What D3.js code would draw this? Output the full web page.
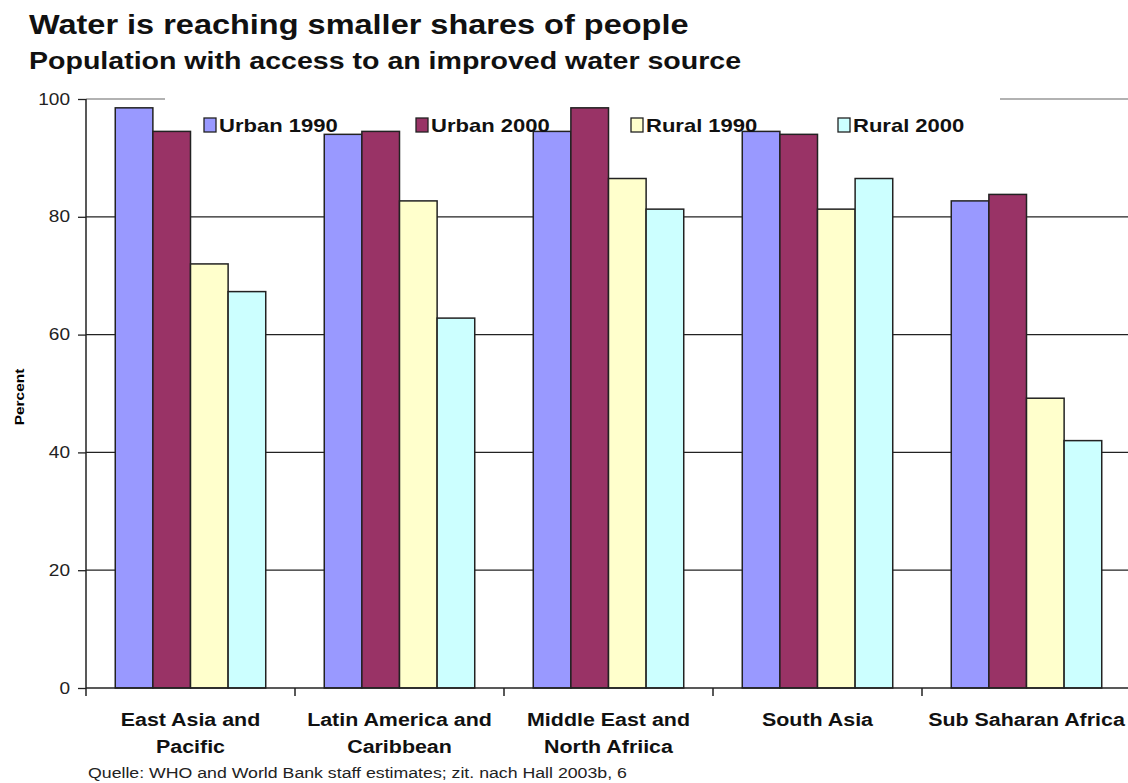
<!DOCTYPE html>
<html>
<head>
<meta charset="utf-8">
<script src="https://cdn.jsdelivr.net/npm/d3@7"></script>
<style>
  body { margin: 0; background: #fff; }
  svg { display: block; font-family: Arial, "Liberation Sans", sans-serif; }
</style>
</head>
<body>
<svg id="chart" width="1128" height="783"></svg>
<script>
// --- data ---
const regions = [
    ["East Asia and", "Pacific"],
    ["Latin America and", "Caribbean"],
    ["Middle East and", "North Afriica"],
    ["South Asia"],
    ["Sub Saharan Africa"]
];
const seriesNames = ["Urban 1990", "Urban 2000", "Rural 1990", "Rural 2000"];
const urban1990 = [98.5, 94.0, 94.5, 94.5, 82.7];
const urban2000 = [94.5, 94.5, 98.5, 94.0, 83.8];
const rural1990 = [72.0, 82.7, 86.5, 81.3, 49.2];
const rural2000 = [67.3, 62.8, 81.3, 86.5, 42.0];
const yTicks = [0, 20, 40, 60, 80, 100];
const colors = ["#9999FF", "#993366", "#FFFFCC", "#CCFFFF"];

const seriesValues = [urban1990, urban2000, rural1990, rural2000];
const svg = d3.select("#chart");
const SX = 1.19; // the original text is drawn a bit wider than Arial

// text helper: positioned by transform so the horizontal stretch keeps its anchor
function label(parent, x, y, txt, size, weight) {
    return parent.append("text")
        .attr("transform", `translate(${x},${y}) scale(${SX},1)`)
        .style("font-size", size + "px").style("font-weight", weight || "normal")
        .attr("fill", "#111").text(txt);
}

// titles
label(svg, 29, 34, "Water is reaching smaller shares of people", 27.3, "bold");
label(svg, 29, 69, "Population with access to an improved water source", 24, "bold");

const plotL = 86, plotR = 1131, plotT = 99, plotB = 688;
const x = d3.scaleBand().domain(d3.range(regions.length)).range([plotL, plotR]);
const xs = d3.scaleBand().domain(d3.range(seriesNames.length))
    .range([x.bandwidth() * 0.14, x.bandwidth() * 0.86]);
const y = d3.scaleLinear().domain([0, 100]).range([plotB, plotT]);

// gridlines
svg.append("g").selectAll("line").data(yTicks.filter(t => t > 0)).join("line")
    .attr("x1", plotL).attr("x2", 1128)
    .attr("y1", d => y(d)).attr("y2", d => y(d))
    .attr("stroke", d => d === 100 ? "#999" : "#222").attr("stroke-width", 1.3);

// legend background (hides top gridline)
svg.append("rect").attr("x", 165).attr("y", 90).attr("width", 835).attr("height", 20).attr("fill", "#fff");

// bars
const groups = svg.append("g").selectAll("g").data(regions).join("g")
    .attr("transform", (d, i) => `translate(${x(i)},0)`);
groups.selectAll("rect").data((d, i) => seriesValues.map((s, k) => ({ k, v: s[i] }))).join("rect")
    .attr("x", d => xs(d.k)).attr("width", xs.bandwidth())
    .attr("y", d => y(d.v)).attr("height", d => y(0) - y(d.v))
    .attr("fill", d => colors[d.k]).attr("stroke", "#222").attr("stroke-width", 1.5);

// legend
const legendX = [204, 416, 631, 838];
const leg = svg.append("g").selectAll("g").data(seriesNames).join("g")
    .attr("transform", (d, i) => `translate(${legendX[i]},118)`);
leg.append("rect").attr("width", 12).attr("height", 14)
    .attr("fill", (d, i) => colors[i]).attr("stroke", "#222").attr("stroke-width", 1.3);
leg.each(function(d) { label(d3.select(this), 15, 14, d, 18.5, "bold"); });

// y axis
const yAxis = svg.append("g").attr("transform", `translate(${plotL},0)`)
    .call(d3.axisLeft(y).tickValues(yTicks).tickSize(8).tickPadding(0));
yAxis.select(".domain").attr("stroke", "#222").attr("stroke-width", 1.5).attr("d", `M0,${plotT}V${plotB}`);
yAxis.selectAll(".tick line").attr("stroke", "#222").attr("stroke-width", 1.3);
yAxis.selectAll("text").attr("x", -16 / SX).attr("transform", `scale(${SX},1)`)
    .style("font-size", "16px").style("font-family", "Arial, sans-serif").attr("fill", "#222");

svg.append("text").attr("transform", `translate(24,397) rotate(-90) scale(${SX},1)`).attr("text-anchor", "middle")
    .style("font-size", "13px").style("font-weight", "bold").text("Percent");

// x axis baseline and category boundary ticks
svg.append("line").attr("x1", plotL).attr("x2", 1128).attr("y1", plotB).attr("y2", plotB)
    .attr("stroke", "#222").attr("stroke-width", 1.5);
svg.append("g").selectAll("line").data(d3.range(regions.length + 1)).join("line")
    .attr("x1", i => plotL + i * x.step()).attr("x2", i => plotL + i * x.step())
    .attr("y1", plotB).attr("y2", plotB + 8).attr("stroke", "#222").attr("stroke-width", 1.5);

// category labels
const lab = svg.append("g").selectAll("text").data(regions).join("text")
    .attr("text-anchor", "middle").style("font-size", "18px").style("font-weight", "bold").attr("fill", "#111")
    .attr("transform", (d, i) => `translate(${x(i) + x.bandwidth() / 2},726) scale(${SX},1)`);
lab.selectAll("tspan").data(d => d).join("tspan")
    .attr("x", 0).attr("dy", (d, j) => j === 0 ? 0 : 27).text(d => d);

// source
label(svg, 88, 778, "Quelle: WHO and World Bank staff estimates; zit. nach Hall 2003b, 6", 14.9).attr("fill", "#222");
</script>
</body>
</html>
